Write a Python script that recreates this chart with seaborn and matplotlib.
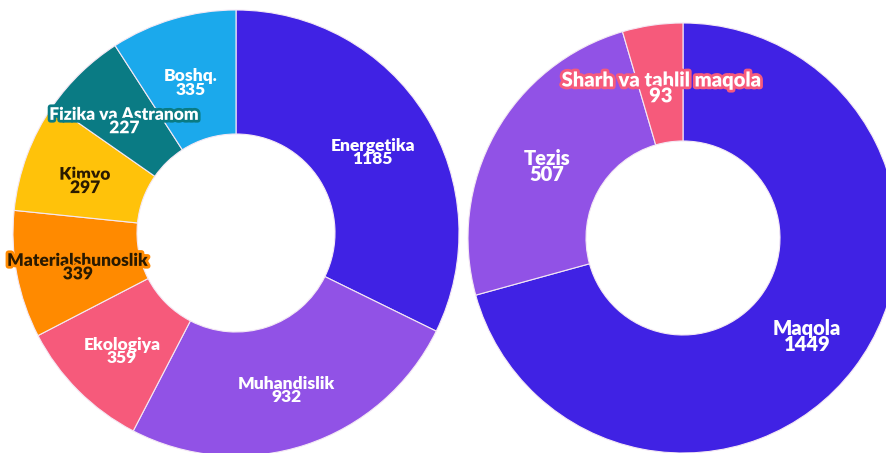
import matplotlib
matplotlib.use("Agg")
import matplotlib.pyplot as plt
import matplotlib.patheffects as pe
import seaborn as sns
import numpy as np

# left donut: yo'nalishlar
fields = ["Energetika", "Muhandislik", "Ekologiya", "Materialshunoslik",
          "Kimyo", "Fizika va Astranom", "Boshq."]
field_counts = [1185, 932, 359, 339, 297, 227, 335]
field_colors = ["#4022e4", "#9152e6", "#f65a7b", "#ff8a00",
                "#ffc20a", "#0a7b84", "#1ba9ec"]
field_text = ["white", "white", "white", "#2a1a00", "#2a1a00", "white", "white"]

# right donut: nashr turlari
types = ["Maqola", "Tezis", "Sharh va tahlil maqola"]
type_counts = [1449, 507, 93]
type_colors = ["#4022e4", "#9152e6", "#f65a7b"]
type_text = ["white", "white", "white"]

sns.set_theme(style="white")
plt.rcParams["font.family"] = ["Lato", "DejaVu Sans"]

W, H = 886, 453
fig = plt.figure(figsize=(W / 100, H / 100), dpi=100)
fig.patch.set_facecolor("white")


def donut(cx, cy, r_out, r_in, labels, values, colors, tcolors, halo, fsize):
    # place axes so that one data unit equals r_out pixels
    ax = fig.add_axes([(cx - r_out) / W, (H - cy - r_out) / H,
                       2 * r_out / W, 2 * r_out / H])
    width = 1 - r_in / r_out
    wedges, _ = ax.pie(values, colors=colors, startangle=90, counterclock=False,
                       radius=1, wedgeprops=dict(width=width, edgecolor="#f4e8f4",
                                                 linewidth=0.8))
    rmid = 1 - width / 2
    for w, lab, val, col, tc, h in zip(wedges, labels, values, colors, tcolors, halo):
        ang = np.deg2rad((w.theta1 + w.theta2) / 2)
        x, y = rmid * np.cos(ang), rmid * np.sin(ang) - 0.02
        t = ax.text(x, y, f"{lab}\n{val}", ha="center", va="center",
                    color=tc, fontsize=fsize, fontweight="heavy",
                    linespacing=0.8)
        if h:
            t.set_path_effects([pe.withStroke(linewidth=4, foreground=col)])
    ax.set_xlim(-1, 1)
    ax.set_ylim(-1, 1)
    ax.set_aspect("auto")
    ax.axis("off")
    return ax


donut(236, 233, 223, 99, fields, field_counts, field_colors, field_text,
      [False, False, False, True, True, True, False], 12.5)
donut(683, 238, 215, 97, types, type_counts, type_colors, type_text,
      [False, False, True], 14.5)

plt.savefig("out.png", dpi=100, facecolor="white")
plt.close()
